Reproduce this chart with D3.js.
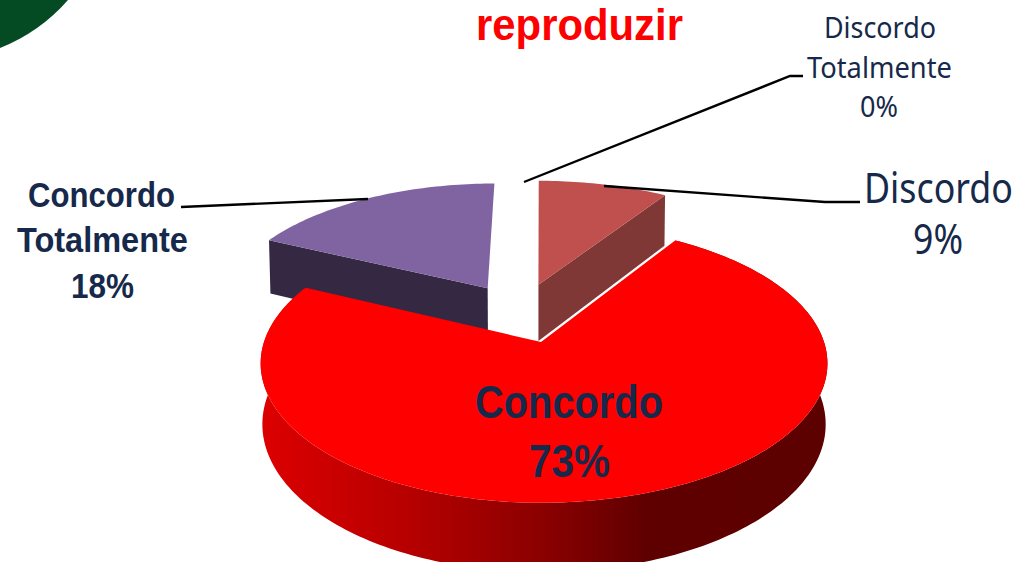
<!DOCTYPE html>
<html><head><meta charset="utf-8">
<script src="https://cdn.jsdelivr.net/npm/d3@7/dist/d3.min.js"></script>
<style>html,body{margin:0;padding:0;background:#fff;overflow:hidden}svg{display:block}</style>
</head><body><div id="c"></div>
<script>
const categories = ["Discordo Totalmente","Discordo","Concordo","Concordo Totalmente"];
const values = [0,9,73,18];
const topColors = ["#4f81bd","#c0504d","#ff0000","#8064a2"];
const wallColors = ["#2c4d75","#803836","url(#redWall)","#352843"];
const titleText = "reproduzir";

const W=1017,H=562;
const svg=d3.select("#c").append("svg").attr("width",W).attr("height",H);
const defs=svg.append("defs");
const grad=defs.append("linearGradient").attr("id","redWall").attr("gradientUnits","userSpaceOnUse")
  .attr("x1",262).attr("x2",827).attr("y1",0).attr("y2",0);
[[0,"#dc0000"],[0.25,"#b80000"],[0.5,"#8a0000"],[0.68,"#5f0000"],[1,"#5c0000"]].forEach(s=>grad.append("stop").attr("offset",s[0]).attr("stop-color",s[1]));

// corner decoration
svg.append("path").attr("fill","#044a22")
  .attr("d","M0,0L68,0Q40,32 0,48Z");

// perspective projection of the pie disc (world radius 1)
const sxS=d3.scaleLinear().domain([-1,0,1]).range([541-277,541,541+283]);
const syS=d3.scaleLinear().domain([-1,1]).range([342-136,342+136]);
const P=0.154,Q=0.006,DEPTH=60;
function project(x,y,z){const w=1-P*y+Q*z;return [541+(sxS(x)-541)/w,(syS(y)-342)/w+DEPTH*z/w];}
const proj2=(x,y,z)=>{const p=project(x,y,z);return [p[0],p[1]+342];};

const explode={ "Discordo":[-0.01,-0.45], "Concordo":[0,0], "Concordo Totalmente":[-0.205,-0.42], "Discordo Totalmente":[0,-0.6]};
const pie=d3.pie().sort(null).value(d=>d)(values);
const line=d3.line();

function rim(a0,a1,o,z){
  const n=Math.max(2,Math.ceil((a1-a0)/0.02));
  return d3.range(n+1).map(i=>{const a=a0+(a1-a0)*i/n;return proj2(o[0]+Math.sin(a),o[1]-Math.cos(a),z);});
}
const drawOrder=[3,1,2];
const g=svg.append("g");
drawOrder.forEach(i=>{
  const s=pie[i],o=explode[categories[i]];
  const a0=s.startAngle,a1=s.endAngle;
  if(i===2){
    const top=rim(a0,a1,o,0),bot=rim(a0,a1,o,1).reverse();
    g.append("path").attr("d",line(top.concat(bot))+"Z").attr("fill",wallColors[i]);
  }
  if(i===1||i===3){
    const e=i===1?a1:a0;
    g.append("path").attr("d",line([proj2(o[0],o[1],0),proj2(o[0]+Math.sin(e),o[1]-Math.cos(e),0),proj2(o[0]+Math.sin(e),o[1]-Math.cos(e),1),proj2(o[0],o[1],1)])+"Z").attr("fill",wallColors[i]);
  }
  const topPts=[proj2(o[0],o[1],0)].concat(rim(a0,a1,o,0));
  g.append("path").attr("d",line(topPts)+"Z").attr("fill",topColors[i]);
});

// leader lines
const leaders=[
  [[181,207],[368,199]],
  [[860,202],[825,202],[604,186]],
  [[803,76],[790,76],[524,182]]
];
svg.selectAll("path.lead").data(leaders).enter().append("path").attr("class","lead")
  .attr("d",d=>line(d)).attr("fill","none").attr("stroke","#000").attr("stroke-width",2.4);

// text
const ink="#16294a";
const pct=i=>values[i]+"%";
const texts=[
  {t:titleText,x:476,w:207,y:40,s:44,b:1,c:"#ff0000"},
  {t:"Discordo",x:824,w:112,y:38,s:29,b:0,c:ink},
  {t:"Totalmente",x:807,w:145,y:78,s:29,b:0,c:ink},
  {t:pct(0),x:860,w:38,y:117,s:29,b:0,c:ink},
  {t:"Discordo",x:864,w:149,y:203,s:41,b:0,c:ink},
  {t:pct(1),x:913,w:50,y:254,s:41,b:0,c:ink},
  {t:"Concordo",x:28,w:147,y:207,s:36,b:1,c:ink},
  {t:"Totalmente",x:17,w:171,y:252,s:36,b:1,c:ink},
  {t:pct(3),x:71,w:63,y:298,s:36,b:1,c:ink},
  {t:"Concordo",x:475,w:188,y:418,s:47,b:1,c:ink},
  {t:pct(2),x:529,w:81,y:477,s:47,b:1,c:ink}
];
svg.selectAll("text").data(texts).enter().append("text").text(d=>d.t)
  .attr("font-family",d=>d.b?"'Liberation Sans',Arial,sans-serif":"'Noto Sans',sans-serif")
  .attr("font-weight",d=>d.b?700:400).attr("font-size",d=>d.s).attr("fill",d=>d.c)
  .attr("transform",function(d){const n=this.getComputedTextLength();return `translate(${d.x},${d.y}) scale(${d.w/n},1)`;});
</script></body></html>
